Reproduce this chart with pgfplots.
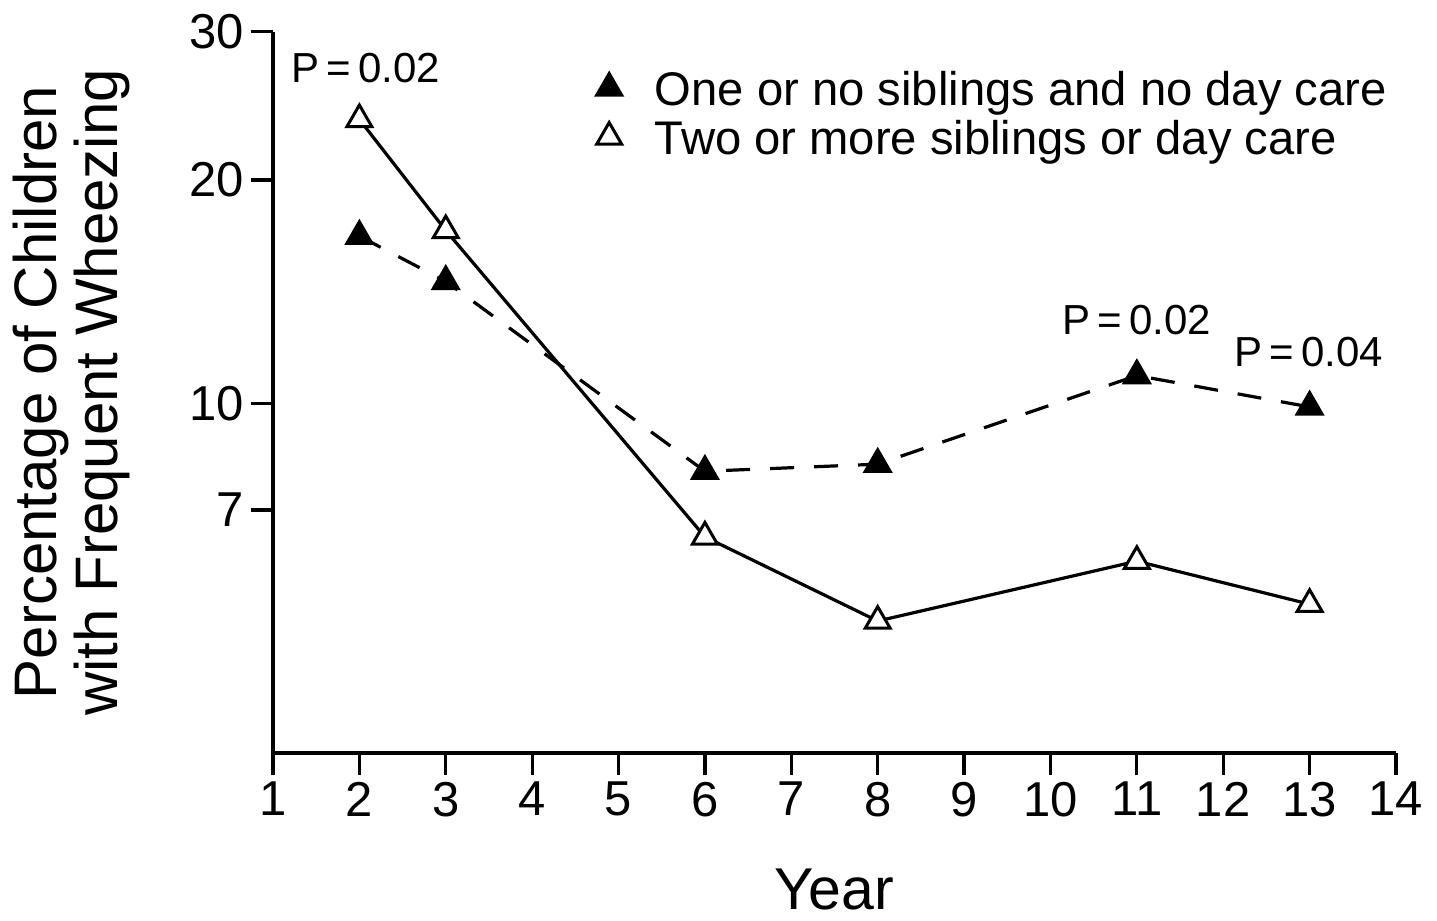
\documentclass[border=0pt]{standalone}
\usepackage{fontspec}
\setmainfont{Liberation Sans}
\usepackage{pgfplots}
\pgfplotsset{compat=1.18}
\begin{document}
\begin{tikzpicture}
\begin{axis}[
  scale only axis, width=561.5pt, height=360.65pt,
  xmin=1, xmax=14, ymin=3.107, ymax=30,
  y coord trafo/.code={\pgfmathparse{(#1>=20)?(573+365.7*ln(#1/20)):((#1>=10)?(349.7+322.2*ln(#1/10)):(349.7+299.1*ln(#1/10)))}},
  axis lines=left, axis line style={-, line width=1.6pt, black},
  tick align=outside, major tick length=11pt,
  major tick style={line width=1.6pt, black},
  xtick={1,2,...,14}, ytick={7,10,20,30}, yticklabels={7,10,20,30},
  tick label style={font=\fontsize{24.5}{24.5}\selectfont},
  /pgf/number format/assume math mode=true,
  xlabel={Year},
  xlabel style={at={(axis description cs:0.5,-0.2175)}, anchor=base, inner sep=0pt, font=\fontsize{29.5}{30}\selectfont},
  ylabel={Percentage of Children\\with Frequent Wheezing},
  ylabel style={at={(axis description cs:-0.179,0.5)}, anchor=center, align=center, font=\fontsize{30}{30.5}\selectfont},
  clip=false,
  legend style={draw=none, fill=none, at={(axis description cs:0.278,0.951)}, anchor=north west,
    font=\fontsize{23.6}{28}\selectfont, column sep=0pt, row sep=0pt,
    nodes={inner sep=0pt, text height=17pt, text depth=7.5pt}},
  legend cell align=left,
  legend image code/.code={\draw[#1, only marks] plot coordinates {(0pt,4pt)}; \path (-8pt,0pt) (22pt,0pt);},
]
\addplot[black, line width=1.6pt, dash pattern=on 12pt off 10pt, mark=triangle*, mark size=7.2pt,
  mark options={solid, fill=black, draw=black, line width=1.5pt}]
  coordinates {(2,16.8) (3,14.6) (6,7.97) (8,8.16) (11,10.9) (13,9.88)};
\addlegendentry{One or no siblings and no day care}
\addplot[black, line width=1.6pt, mark=triangle*, mark size=7.2pt,
  mark options={solid, fill=white, draw=black, line width=1.5pt}]
  coordinates {(2,23.6) (3,17.1) (6,6.40) (8,4.83) (11,5.90) (13,5.11)};
\addlegendentry{Two or more siblings or day care}
\node[anchor=base, font=\fontsize{21}{21}\selectfont] at (axis description cs:0.0828,0.930) {P\,=\,0.02};
\node[anchor=base, font=\fontsize{21}{21}\selectfont] at (axis description cs:0.7694,0.5795) {P\,=\,0.02};
\node[anchor=base, font=\fontsize{21}{21}\selectfont] at (axis description cs:0.9225,0.5365) {P\,=\,0.04};
\end{axis}
\pgfresetboundingbox
\path[use as bounding box] (-136.5pt,-84pt) rectangle (582pt,376.5pt);
\end{tikzpicture}
\end{document}
